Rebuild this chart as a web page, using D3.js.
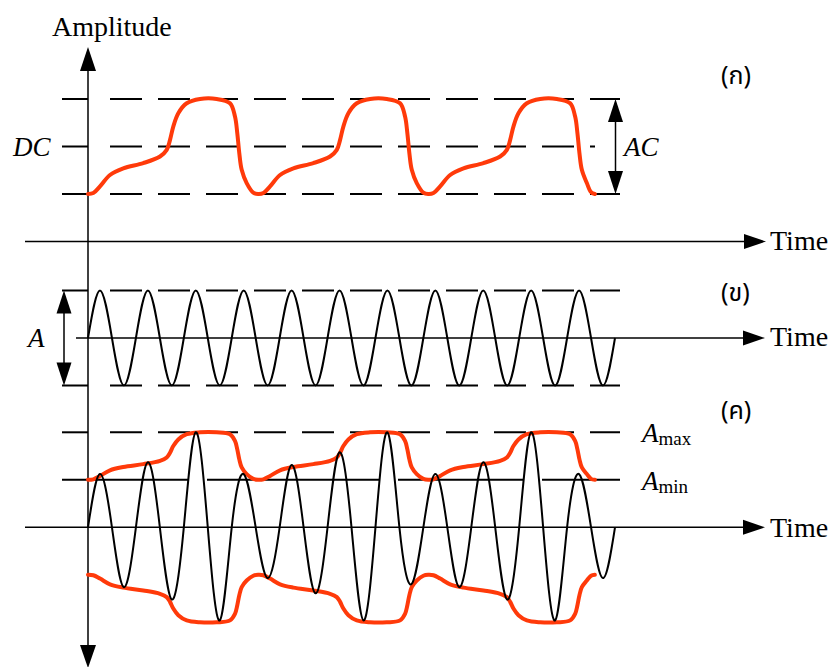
<!DOCTYPE html>
<html><head><meta charset="utf-8">
<script src="https://cdn.jsdelivr.net/npm/d3@7"></script>
<style>body{margin:0;background:#fff} svg{display:block}</style>
</head><body>
<svg id="c" width="835" height="667"></svg>
<script>
// ---------------- data ----------------
const timeDomain = [0, 110];            // time units (carrier period = 10)
const carrierHalfPeriod = 5;
// (ก) message signal with DC offset : time / amplitude
const messageTime = [
  0, 1.11, 2.50, 4.59, 7.37, 11.54, 15.03, 16.43, 17.12, 17.80, 18.85, 20.60, 23.38, 26.86, 29.64, 30.68, 31.16, 31.58, 32.08, 33.12, 34.50, 35.50,
  36.61, 38.00, 40.09, 42.87, 47.04, 50.53, 51.93, 52.62, 53.30, 54.35, 56.10, 58.88, 62.36, 65.14, 66.18, 66.66, 67.08, 67.58, 68.62, 70.00, 71.00,
  72.11, 73.50, 75.59, 78.37, 82.54, 86.03, 87.43, 88.12, 88.80, 89.85, 91.60, 94.38, 97.86, 100.64, 101.68, 102.16, 102.58, 103.08, 104.12, 105.00, 105.80
];
const messageAmp = [
  1.00, 1.02, 1.16, 1.40, 1.54, 1.65, 1.79, 1.93, 2.14, 2.42, 2.70, 2.91, 3.00, 3.00, 2.91, 2.63, 2.28, 1.86, 1.51, 1.23, 1.03, 1.00,
  1.02, 1.16, 1.40, 1.54, 1.65, 1.79, 1.93, 2.14, 2.42, 2.70, 2.91, 3.00, 3.00, 2.91, 2.63, 2.28, 1.86, 1.51, 1.23, 1.03, 1.00,
  1.02, 1.16, 1.40, 1.54, 1.65, 1.79, 1.93, 2.14, 2.42, 2.70, 2.91, 3.00, 3.00, 2.91, 2.63, 2.28, 1.86, 1.51, 1.23, 1.04, 1.00
];
// (ค) envelope amplitude (between A_min and A_max), same time points
const envelopeAmp = [
  1.00, 1.01, 1.08, 1.20, 1.27, 1.33, 1.40, 1.47, 1.57, 1.71, 1.85, 1.96, 2.00, 2.00, 1.96, 1.82, 1.64, 1.43, 1.26, 1.12, 1.02, 1.00,
  1.01, 1.08, 1.20, 1.27, 1.33, 1.40, 1.47, 1.57, 1.71, 1.85, 1.96, 2.00, 2.00, 1.96, 1.82, 1.64, 1.43, 1.26, 1.12, 1.02, 1.00,
  1.01, 1.08, 1.20, 1.27, 1.33, 1.40, 1.47, 1.57, 1.71, 1.85, 1.96, 2.00, 2.00, 1.96, 1.82, 1.64, 1.43, 1.26, 1.12, 1.02, 1.00
];
// (ข) carrier extrema (11 cycles)
const carrierExtrema = [1,-1,1,-1,1,-1,1,-1,1,-1,1,-1,1,-1,1,-1,1,-1,1,-1,1,-1];
// (ค) AM signal peaks and troughs
const amPeaks   = [1.12, 1.37, 2.00, 1.12, 1.31, 1.58, 2.00, 1.12, 1.37, 2.00, 1.12];
const amTroughs = [1.26, 1.52, 1.96, 1.07, 1.39, 1.96, 1.20, 1.26, 1.52, 1.96, 1.07];
// reference levels
const levelsA = [3, 2, 1];          // top, DC, bottom
const levelsB = [1, -1];
const aMax = 2, aMin = 1;
const panelLabels = ["(ก)", "(ข)", "(ค)"];
const timeLabel = "Time";
const ampLabel = "Amplitude";

// ---------------- drawing ----------------
const svg = d3.select("#c");
const RED = "#ff3a0a";

const x = d3.scaleLinear().domain(timeDomain).range([88, 615]);
const yA = d3.scaleLinear().domain([0, 3]).range([241.5, 99]);
const yB = d3.scaleLinear().domain([-1, 1]).range([385.5, 290.5]);
const yC = d3.scaleLinear().domain([-2, 2]).range([622.3, 432.3]);

const gGuide = svg.append("g");
const gAxis = svg.append("g");
const gData = svg.append("g");
const gText = svg.append("g");

function dashGuide(yPix, xEnd) {
  gGuide.append("line").attr("x1", 62).attr("x2", 88).attr("y1", yPix).attr("y2", yPix)
    .attr("stroke", "#000").attr("stroke-width", 2);
  gGuide.append("line").attr("x1", 110).attr("x2", xEnd).attr("y1", yPix).attr("y2", yPix)
    .attr("stroke", "#000").attr("stroke-width", 2).attr("stroke-dasharray", "32,16");
}
dashGuide(yA(levelsA[0]), 620);
dashGuide(yA(levelsA[1]), 595);
dashGuide(yA(levelsA[2]), 620);
dashGuide(yB(levelsB[0]), 620);
dashGuide(yB(levelsB[1]), 620);
dashGuide(yC(aMax), 620);
gGuide.append("line").attr("x1", 62).attr("x2", 620).attr("y1", yC(aMin)).attr("y2", yC(aMin))
  .attr("stroke", "#000").attr("stroke-width", 2).attr("stroke-dasharray", "126,19,173,18,125,19,100");

function tri(pts) {
  gAxis.append("path").attr("d", "M" + pts.map(p => p.join(",")).join("L") + "Z").attr("fill", "#000");
}
function timeAxis(yPix, x0, xTip) {
  gAxis.append("line").attr("x1", x0).attr("x2", xTip - 10).attr("y1", yPix).attr("y2", yPix)
    .attr("stroke", "#000").attr("stroke-width", 1.5);
  tri([[xTip, yPix], [xTip - 22, yPix - 7.5], [xTip - 22, yPix + 7.5]]);
}
timeAxis(yA(0), 25, 766);
timeAxis(yB(0), 76, 765);
timeAxis(yC(0), 25, 765);

gAxis.append("line").attr("x1", 88).attr("x2", 88).attr("y1", 60).attr("y2", 660)
  .attr("stroke", "#000").attr("stroke-width", 1.5);
tri([[88, 47], [80, 71], [96, 71]]);
tri([[88, 668], [80, 645], [96, 645]]);

function dblArrow(xPix, y1, y2) {
  gAxis.append("line").attr("x1", xPix).attr("x2", xPix).attr("y1", y1 + 10).attr("y2", y2 - 10)
    .attr("stroke", "#000").attr("stroke-width", 1.5);
  tri([[xPix, y1], [xPix - 7.5, y1 + 23], [xPix + 7.5, y1 + 23]]);
  tri([[xPix, y2], [xPix - 7.5, y2 - 23], [xPix + 7.5, y2 - 23]]);
}
dblArrow(615.5, yA(levelsA[0]), yA(levelsA[2]));
dblArrow(64, yB(levelsB[0]), yB(levelsB[1]));

const smooth = d3.curveCatmullRom.alpha(0.5);

// (ก) message
const msg = messageTime.map((t, i) => [t, messageAmp[i]]);
gData.append("path").datum(msg)
  .attr("d", d3.line().x(d => x(d[0])).y(d => yA(d[1])).curve(smooth))
  .attr("fill", "none").attr("stroke", RED).attr("stroke-width", 4).attr("stroke-linecap", "round");

function wavePoints(ext) {
  const pts = [[0, 0]];
  ext.forEach((e, i) => {
    pts.push([carrierHalfPeriod * (i + 0.5), e]);
    pts.push([carrierHalfPeriod * (i + 1), 0]);
  });
  return pts;
}

// (ข) carrier
gData.append("path").datum(wavePoints(carrierExtrema))
  .attr("d", d3.line().x(d => x(d[0])).y(d => yB(d[1])).curve(d3.curveNatural))
  .attr("fill", "none").attr("stroke", "#000").attr("stroke-width", 2);

// (ค) envelope
const env = messageTime.map((t, i) => [t, envelopeAmp[i]]);
const envLine = sign => d3.line().x(d => x(d[0])).y(d => yC(sign * d[1])).curve(smooth);
gData.append("path").datum(env).attr("d", envLine(1))
  .attr("fill", "none").attr("stroke", RED).attr("stroke-width", 4).attr("stroke-linecap", "round");
gData.append("path").datum(env).attr("d", envLine(-1))
  .attr("fill", "none").attr("stroke", RED).attr("stroke-width", 4).attr("stroke-linecap", "round");

// (ค) AM signal
const amExt = [];
amPeaks.forEach((p, i) => { amExt.push(p); amExt.push(-amTroughs[i]); });
gData.append("path").datum(wavePoints(amExt))
  .attr("d", d3.line().x(d => x(d[0])).y(d => yC(d[1])).curve(d3.curveNatural))
  .attr("fill", "none").attr("stroke", "#000").attr("stroke-width", 2);

function txt(s, xp, yp, size, opts = {}) {
  return gText.append("text").attr("x", xp).attr("y", yp).text(s)
    .style("font-family", opts.thai ? "Noto Sans Thai" : "Liberation Serif")
    .style("font-size", size + "px")
    .style("font-style", opts.italic ? "italic" : "normal").attr("fill", "#000");
}
txt(ampLabel, 52, 36, 28);
txt("DC", 13, 156, 27, { italic: true });
txt("AC", 624, 156, 27, { italic: true });
txt("A", 28, 347, 27, { italic: true });
txt(timeLabel, 770, 250, 28);
txt(timeLabel, 770, 346, 28);
txt(timeLabel, 770, 537, 28);
function subLabel(sub, yp) {
  const t = txt("A", 642, yp, 27, { italic: true });
  t.append("tspan").style("font-style", "normal").style("font-size", "19px").attr("dy", 3).text(sub);
}
subLabel("max", 442);
subLabel("min", 490);
txt(panelLabels[0], 721, 84, 25, { thai: true });
txt(panelLabels[1], 721, 301, 25, { thai: true });
txt(panelLabels[2], 721, 419, 25, { thai: true });
</script>
</body></html>
